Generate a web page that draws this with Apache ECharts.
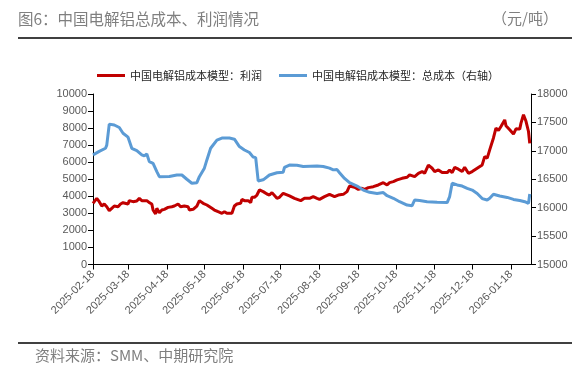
<!DOCTYPE html>
<html><head><meta charset="utf-8">
<script src="https://cdn.jsdelivr.net/npm/echarts@6/dist/echarts.min.js"></script>
<style>html,body{margin:0;padding:0;background:#fff}#c{width:588px;height:372px}</style>
</head><body><div id="c"></div>
<script>
const profitDates = ['2025-02-18','2025-02-21','2025-02-23','2025-02-25','2025-02-27','2025-03-01','2025-03-03','2025-03-05','2025-03-07','2025-03-10','2025-03-12','2025-03-14','2025-03-18','2025-03-19','2025-03-22','2025-03-25','2025-03-27','2025-03-29','2025-04-02','2025-04-04','2025-04-06','2025-04-07','2025-04-09','2025-04-10','2025-04-12','2025-04-14','2025-04-16','2025-04-19','2025-04-22','2025-04-24','2025-04-27','2025-04-29','2025-05-02','2025-05-05','2025-05-06','2025-05-09','2025-05-12','2025-05-14','2025-05-17','2025-05-20','2025-05-24','2025-05-26','2025-05-29','2025-06-01','2025-06-03','2025-06-05','2025-06-09','2025-06-11','2025-06-13','2025-06-16','2025-06-17','2025-06-19','2025-06-22','2025-06-24','2025-06-25','2025-06-27','2025-06-29','2025-07-01','2025-07-04','2025-07-07','2025-07-09','2025-07-11','2025-07-15','2025-07-17','2025-07-20','2025-07-21','2025-07-25','2025-07-29','2025-08-03','2025-08-06','2025-08-10','2025-08-13','2025-08-16','2025-08-18','2025-08-22','2025-08-26','2025-08-30','2025-09-02','2025-09-06','2025-09-09','2025-09-11','2025-09-15','2025-09-18','2025-09-21','2025-09-23','2025-09-26','2025-09-30','2025-10-04','2025-10-08','2025-10-11','2025-10-13','2025-10-16','2025-10-19','2025-10-23','2025-10-27','2025-10-29','2025-11-02','2025-11-05','2025-11-08','2025-11-10','2025-11-13','2025-11-16','2025-11-18','2025-11-21','2025-11-24','2025-11-28','2025-11-30','2025-12-02','2025-12-04','2025-12-07','2025-12-10','2025-12-12','2025-12-15','2025-12-18','2025-12-22','2025-12-26','2025-12-28','2025-12-30','2026-01-01','2026-01-04','2026-01-06','2026-01-08','2026-01-10','2026-01-13','2026-01-14','2026-01-17','2026-01-20','2026-01-22','2026-01-25','2026-01-26','2026-01-28','2026-01-30','2026-02-01','2026-02-02'];
const profitValues = [3590,3880,3685,3430,3550,3390,3155,3295,3430,3390,3550,3625,3550,3745,3685,3725,3880,3745,3745,3625,3550,3195,2960,3295,3040,3195,3235,3350,3390,3430,3550,3390,3430,3390,3195,3235,3430,3745,3590,3490,3295,3195,3095,3000,3095,3000,3000,3430,3550,3590,3820,3745,3745,3625,3940,3940,4075,4370,4275,4135,4075,4215,3880,3940,4175,4275,4020,3880,3745,3880,3880,3980,3880,3820,3980,4115,3980,4075,4115,4275,4605,4530,4410,4470,4410,4510,4565,4665,4800,4665,4800,4860,4960,5055,5115,5255,5155,5350,5450,5350,5830,5645,5450,5545,5390,5390,5545,5390,5690,5590,5450,5700,5350,5450,5645,5840,6330,6235,6725,7420,8000,7860,8095,8480,8135,7900,7650,7960,7940,8290,8780,8400,7800,7100];
const costDates = ['2025-02-18','2025-02-23','2025-02-28','2025-03-01','2025-03-03','2025-03-07','2025-03-11','2025-03-14','2025-03-18','2025-03-21','2025-03-25','2025-03-29','2025-03-31','2025-04-02','2025-04-04','2025-04-07','2025-04-10','2025-04-12','2025-04-20','2025-04-26','2025-04-30','2025-05-04','2025-05-08','2025-05-12','2025-05-14','2025-05-18','2025-05-20','2025-05-23','2025-05-28','2025-06-01','2025-06-07','2025-06-11','2025-06-15','2025-06-19','2025-06-23','2025-06-26','2025-06-28','2025-06-30','2025-07-04','2025-07-09','2025-07-15','2025-07-20','2025-07-21','2025-07-25','2025-07-31','2025-08-05','2025-08-16','2025-08-21','2025-08-26','2025-08-29','2025-09-01','2025-09-03','2025-09-07','2025-09-11','2025-09-17','2025-09-22','2025-09-27','2025-10-03','2025-10-08','2025-10-11','2025-10-16','2025-10-21','2025-10-27','2025-10-31','2025-11-02','2025-11-06','2025-11-12','2025-11-20','2025-11-28','2025-11-30','2025-12-02','2025-12-06','2025-12-10','2025-12-14','2025-12-18','2025-12-22','2025-12-26','2025-12-30','2026-01-01','2026-01-04','2026-01-09','2026-01-15','2026-01-20','2026-01-25','2026-01-29','2026-02-01','2026-02-02'];
const costValues = [16930,16990,17045,17100,17470,17455,17410,17310,17240,17045,17005,16930,16910,16945,16810,16780,16635,16545,16550,16575,16575,16500,16430,16440,16545,16695,16840,17045,17190,17225,17225,17205,17075,17015,16970,16890,16880,16470,16490,16575,16615,16625,16710,16750,16745,16725,16735,16725,16695,16665,16670,16615,16515,16440,16380,16310,16270,16250,16265,16210,16165,16105,16045,16035,16135,16125,16105,16095,16090,16195,16430,16400,16380,16340,16310,16250,16160,16135,16165,16235,16205,16180,16145,16125,16105,16075,16240];
const xTickLabels = ['2025-02-18','2025-03-18','2025-04-18','2025-05-18','2025-06-18','2025-07-18','2025-08-18','2025-09-18','2025-10-18','2025-11-18','2025-12-18','2026-01-18'];
const xMin = '2025-02-18', xMax = '2026-02-03';
const leftAxis = {min: 0, max: 10000, interval: 1000};
const rightAxis = {min: 15000, max: 18000, interval: 500};
const seriesNames = ['中国电解铝成本模型：利润', '中国电解铝成本模型：总成本（右轴）'];

function toTs(s){const p=s.split('-').map(Number);return Date.UTC(p[0],p[1]-1,p[2]);}
function fmt(v){const d=new Date(v);const m=String(d.getUTCMonth()+1).padStart(2,'0');const dd=String(d.getUTCDate()).padStart(2,'0');return d.getUTCFullYear()+'-'+m+'-'+dd;}
const tickTs = xTickLabels.map(toTs);
const profitData = profitDates.map((d,i)=>[toTs(d), profitValues[i]]);
const costData = costDates.map((d,i)=>[toTs(d), costValues[i]]);

const chart = echarts.init(document.getElementById('c'), null, {renderer:'canvas'});
const axisColor = '#000';
const labelColor = '#595959';
const font = 'Liberation Sans, Arial, sans-serif';
chart.setOption({
  animation: false,
  backgroundColor: '#fff',
  grid: {left: 93, right: 57, top: 94, bottom: 107.5, containLabel: false},
  legend: {
    top: 65, left: 92, itemWidth: 28, itemHeight: 3, itemGap: 17, icon: 'rect',
    textStyle: {fontSize: 11, color: '#262626', fontFamily: 'Noto Sans CJK SC'},
    data: seriesNames
  },
  graphic: [
    {type:'text', left: 18, top: 11, style:{text:'图6：中国电解铝总成本、利润情况', fontSize:15.5, fill:'#7f7f7f', fontFamily:'Noto Sans CJK SC'}},
    {type:'text', right: 30, top: 11, style:{text:'（元/吨）', fontSize:15, fill:'#7f7f7f', fontFamily:'Noto Sans CJK SC'}},
    {type:'line', shape:{x1:18, y1:38, x2:572, y2:38}, style:{stroke:'#000', lineWidth:1.5}},
    {type:'line', shape:{x1:18, y1:343, x2:572, y2:343}, style:{stroke:'#000', lineWidth:1.5}},
    {type:'text', left: 35, top: 348, style:{text:'资料来源：SMM、中期研究院', fontSize:15, fill:'#7f7f7f', fontFamily:'Noto Sans CJK SC'}}
  ],
  xAxis: {
    type: 'value', min: toTs(xMin), max: toTs(xMax),
    axisLine: {show:true, lineStyle:{color:axisColor, width:1}},
    axisTick: {show:true, customValues: tickTs, length:5, lineStyle:{color:axisColor}},
    axisLabel: {show:true, customValues: tickTs, rotate:45, formatter:(v)=>fmt(v), color:labelColor, fontSize:11, fontFamily:font, margin:8},
    splitLine: {show:false}
  },
  yAxis: [
    {type:'value', min:leftAxis.min, max:leftAxis.max, interval:leftAxis.interval,
     axisLine:{show:true, lineStyle:{color:axisColor}}, axisTick:{show:true, length:5, lineStyle:{color:axisColor}},
     axisLabel:{color:labelColor, fontSize:11, fontFamily:font, margin:6, formatter:(v)=>String(v)}, splitLine:{show:false}},
    {type:'value', position:'right', min:rightAxis.min, max:rightAxis.max, interval:rightAxis.interval,
     axisLine:{show:true, lineStyle:{color:axisColor}}, axisTick:{show:true, length:5, lineStyle:{color:axisColor}},
     axisLabel:{color:labelColor, fontSize:11, fontFamily:font, margin:6, formatter:(v)=>String(v)}, splitLine:{show:false}}
  ],
  series: [
    {name: seriesNames[0], type:'line', yAxisIndex:0, data: profitData, showSymbol:false, symbol:'none',
     lineStyle:{color:'#C00000', width:3}, itemStyle:{color:'#C00000'}},
    {name: seriesNames[1], type:'line', yAxisIndex:1, data: costData, showSymbol:false, symbol:'none',
     lineStyle:{color:'#5B9BD5', width:3}, itemStyle:{color:'#5B9BD5'}}
  ]
});
</script></body></html>
